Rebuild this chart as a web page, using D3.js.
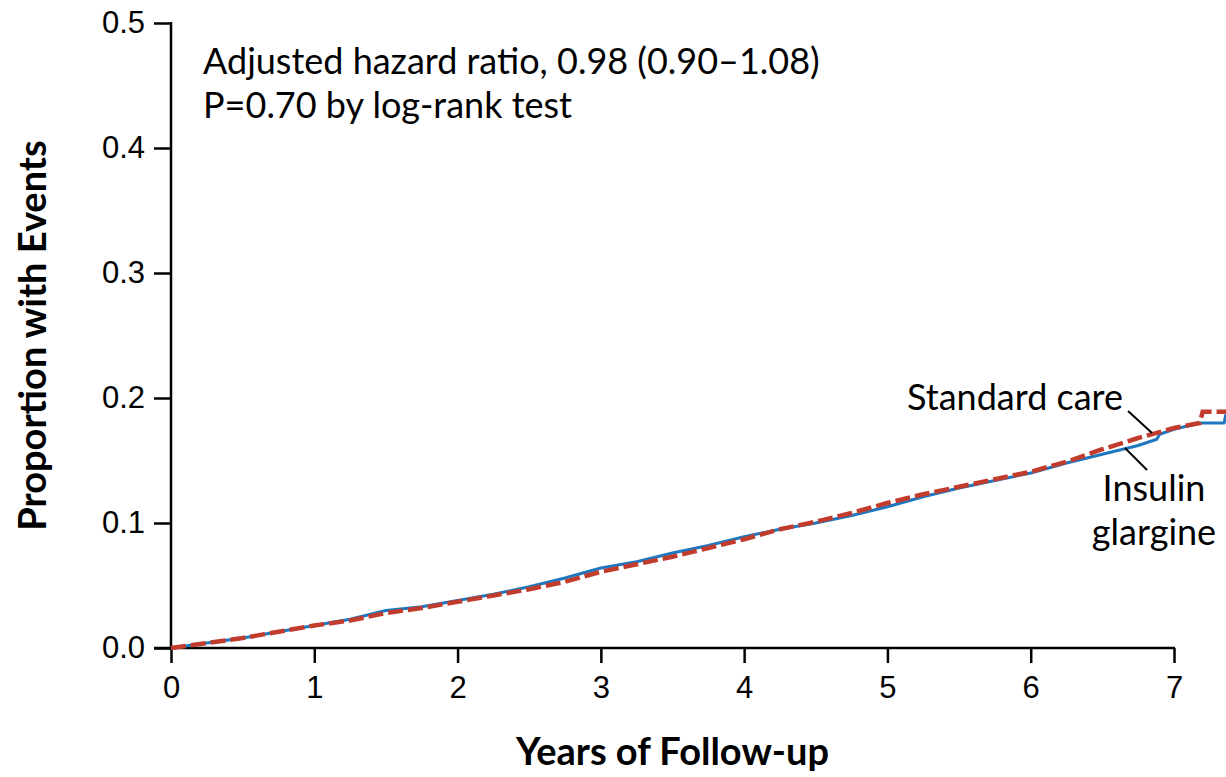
<!DOCTYPE html>
<html>
<head>
<meta charset="utf-8">
<script src="https://cdn.jsdelivr.net/npm/d3@7"></script>
<style>
  body { margin: 0; background: #fff; }
  svg { display: block; font-family: Lato, "Open Sans", sans-serif; }
</style>
</head>
<body>
<svg id="chart"></svg>
<script>
// years of follow-up and cumulative proportion with events
var careTimes = [0, 0.25, 0.5, 0.75, 1, 1.25, 1.5, 1.75, 2, 2.25, 2.5, 2.75, 3, 3.25, 3.5, 3.75, 4,
    4.25, 4.5, 4.75, 5, 5.25, 5.5, 5.75, 6, 6.25, 6.5, 6.75, 7, 7.18, 7.2, 7.4];
var careValues = [0, 0.004, 0.008, 0.013, 0.018, 0.022, 0.028, 0.032, 0.037, 0.042, 0.047, 0.053, 0.061,
    0.067, 0.073, 0.080, 0.087, 0.095, 0.101, 0.108, 0.116, 0.123, 0.129, 0.135, 0.141, 0.149, 0.159,
    0.168, 0.176, 0.180, 0.189, 0.189];

var glargineTimes = [0, 0.25, 0.5, 0.75, 1, 1.25, 1.5, 1.75, 2, 2.25, 2.5, 2.75, 3, 3.25, 3.5, 3.75, 4,
    4.25, 4.5, 4.75, 5, 5.25, 5.5, 5.75, 6, 6.25, 6.5, 6.75, 6.88, 6.9, 7, 7.18, 7.35, 7.36, 7.4];
var glargineValues = [0, 0.004, 0.008, 0.013, 0.018, 0.023, 0.030, 0.033, 0.038, 0.043, 0.049, 0.056,
    0.064, 0.069, 0.076, 0.082, 0.089, 0.095, 0.100, 0.106, 0.113, 0.121, 0.128, 0.134, 0.140, 0.148,
    0.155, 0.162, 0.167, 0.171, 0.175, 0.180, 0.180, 0.186, 0.186];

var xTicks = [0, 1, 2, 3, 4, 5, 6, 7];
var yTicks = [0, 0.1, 0.2, 0.3, 0.4, 0.5];

var width = 1226, height = 777;

var svg = d3.select("#chart")
    .attr("width", width)
    .attr("height", height);

//比例尺
var x = d3.scaleLinear().domain([0, 7]).range([171, 1174]);
var y = d3.scaleLinear().domain([0, 0.5]).range([648, 23]);

var yAxis = g => g
    .attr("transform", `translate(${x(0)}, 0)`)
    .call(d3.axisLeft(y).tickValues(yTicks).tickSize(17).tickPadding(9).tickFormat(d3.format(".1f")))
    .call(g => g.select(".domain").remove())
    .call(g => g.selectAll(".tick line").attr("stroke", "#000").attr("stroke-width", 2.5))
    .call(g => g.selectAll(".tick text").attr("fill", "#000").style("font-size", "31px"));

var xAxis = g => g
    .attr("transform", `translate(0, ${y(0)})`)
    .call(d3.axisBottom(x).tickValues(xTicks).tickSize(15).tickPadding(13).tickFormat(d3.format("d")))
    .call(g => g.select(".domain").remove())
    .call(g => g.selectAll(".tick line").attr("stroke", "#000").attr("stroke-width", 2.5))
    .call(g => g.selectAll(".tick text").attr("fill", "#000").style("font-size", "31px"));

svg.append("g").call(yAxis);
svg.append("g").call(xAxis);

// axis lines (x line runs out to the end of the y ticks)
svg.append("line")
    .attr("x1", x(0)).attr("x2", x(0))
    .attr("y1", y(0.5) - 1).attr("y2", y(0))
    .attr("stroke", "#000").attr("stroke-width", 2.5);
svg.append("line")
    .attr("x1", x(0) - 17).attr("x2", x(7) + 1)
    .attr("y1", y(0)).attr("y2", y(0))
    .attr("stroke", "#000").attr("stroke-width", 2.5);

//折线
var line = d3.line()
    .x(d => x(d[0]))
    .y(d => y(d[1]));

svg.append("path")
    .datum(d3.zip(glargineTimes, glargineValues))
    .attr("fill", "none")
    .attr("stroke", "#1f78bf")
    .attr("stroke-width", 3)
    .attr("stroke-linejoin", "round")
    .attr("d", line);

svg.append("path")
    .datum(d3.zip(careTimes, careValues))
    .attr("fill", "none")
    .attr("stroke", "#c13c2c")
    .attr("stroke-width", 4.5)
    .attr("stroke-dasharray", "15,5")
    .attr("d", line);

// annotations
svg.append("text")
    .attr("x", 203).attr("y", 74)
    .style("font-size", "36px")
    .text("Adjusted hazard ratio, 0.98 (0.90\u20131.08)");
svg.append("text")
    .attr("x", 203).attr("y", 118)
    .style("font-size", "36px")
    .text("P=0.70 by log-rank test");

svg.append("text")
    .attr("x", 1123).attr("y", 410)
    .attr("text-anchor", "end")
    .style("font-size", "36px")
    .text("Standard care");
svg.append("line")
    .attr("x1", 1128).attr("y1", 411).attr("x2", 1152).attr("y2", 433)
    .attr("stroke", "#000").attr("stroke-width", 2);

svg.append("line")
    .attr("x1", 1125).attr("y1", 448).attr("x2", 1147).attr("y2", 470)
    .attr("stroke", "#000").attr("stroke-width", 2);
svg.append("text")
    .attr("x", 1154).attr("y", 501)
    .attr("text-anchor", "middle")
    .style("font-size", "36px")
    .text("Insulin");
svg.append("text")
    .attr("x", 1154).attr("y", 545)
    .attr("text-anchor", "middle")
    .style("font-size", "36px")
    .text("glargine");

// axis titles
svg.append("text")
    .attr("x", (x(0) + x(7)) / 2).attr("y", 765)
    .attr("text-anchor", "middle")
    .style("font-size", "38px")
    .style("font-weight", "bold")
    .text("Years of Follow-up");
svg.append("text")
    .attr("transform", `translate(46, ${(y(0) + y(0.5)) / 2}) rotate(-90)`)
    .attr("text-anchor", "middle")
    .style("font-size", "38px")
    .style("font-weight", "bold")
    .text("Proportion with Events");
</script>
</body>
</html>
